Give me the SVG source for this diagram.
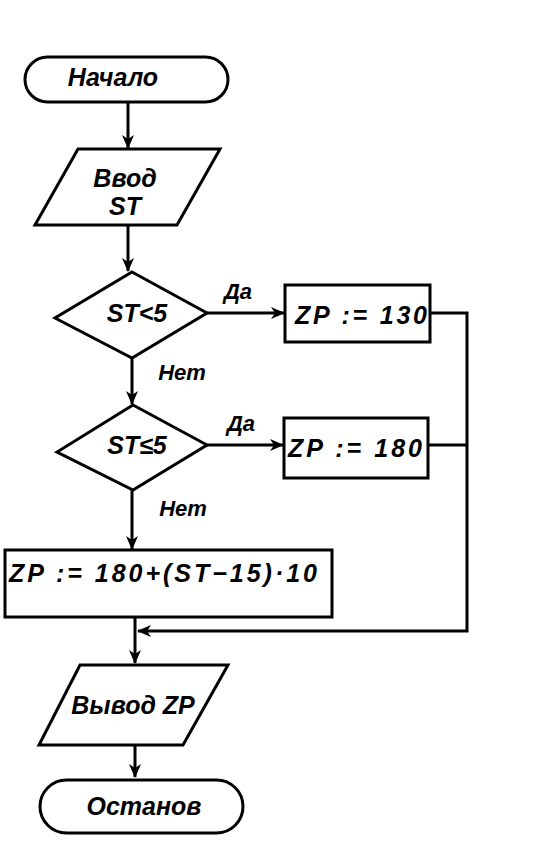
<svg xmlns="http://www.w3.org/2000/svg" width="540" height="856" viewBox="0 0 540 856">
<style>
.s{fill:#fff;stroke:#000;stroke-width:3}
.c{fill:none;stroke:#000;stroke-width:3}
text{font-family:"Liberation Sans",Arial,sans-serif;font-style:italic;font-weight:bold;font-size:25px;fill:#000;text-anchor:middle}
.l{font-size:22px}
</style>
<defs>
<marker id="a" markerWidth="14" markerHeight="12" refX="13" refY="6" orient="auto" markerUnits="userSpaceOnUse">
<path d="M0,0 L14,6 L0,12 L4,6 Z" fill="#000"/>
</marker>
</defs>
<rect width="540" height="856" fill="#fff"/>
<g id="connectors">
<line class="c" x1="128" y1="103" x2="128" y2="148" marker-end="url(#a)"/>
<line class="c" x1="128" y1="225" x2="128" y2="271" marker-end="url(#a)"/>
<line class="c" x1="207" y1="313" x2="284" y2="313" marker-end="url(#a)"/>
<line class="c" x1="132" y1="358" x2="132" y2="404" marker-end="url(#a)"/>
<line class="c" x1="207" y1="445" x2="283" y2="445" marker-end="url(#a)"/>
<line class="c" x1="132" y1="490" x2="132" y2="549" marker-end="url(#a)"/>
<polyline class="c" points="430,313 467,313 467,631 138,631" marker-end="url(#a)"/>
<line class="c" x1="428" y1="445" x2="467" y2="445"/>
<line class="c" x1="135" y1="617" x2="135" y2="663" marker-end="url(#a)"/>
<line class="c" x1="135" y1="745" x2="135" y2="777" marker-end="url(#a)"/>
<text class="l" x="238" y="299">Да</text>
<text class="l" x="182" y="380">Нет</text>
<text class="l" x="241" y="431">Да</text>
<text class="l" x="183" y="516">Нет</text>
</g>
<g id="start">
<rect class="s" x="25" y="57" width="203" height="45" rx="22.5"/>
<text x="113" y="86">Начало</text>
</g>
<g id="input">
<polygon class="s" points="78,149 220,149 177,225 35,225"/>
<text x="125" y="187">Ввод</text>
<text x="125" y="215">ST</text>
</g>
<g id="cond1">
<polygon class="s" points="132,272 207,313 132,358 55,318"/>
<text x="137" y="322">ST&lt;5</text>
</g>
<g id="zp130">
<rect class="s" x="285" y="285" width="145" height="57"/>
<text x="361" y="324" textLength="132" lengthAdjust="spacing">ZP := 130</text>
</g>
<g id="cond2">
<polygon class="s" points="133,405 207,445 133,490 57,452"/>
<text x="137" y="454">ST≤5</text>
</g>
<g id="zp180">
<rect class="s" x="284" y="418" width="144" height="60"/>
<text x="355" y="457" textLength="134" lengthAdjust="spacing">ZP := 180</text>
</g>
<g id="zpcalc">
<rect class="s" x="5" y="550" width="327" height="67"/>
<text x="163" y="582" textLength="308" lengthAdjust="spacing">ZP := 180+(ST−15)·10</text>
</g>
<g id="output">
<polygon class="s" points="80,665 228,665 183,745 39,745"/>
<text x="133" y="714">Вывод ZP</text>
</g>
<g id="stop">
<rect class="s" x="40" y="780" width="203" height="53" rx="26.5"/>
<text x="144" y="815">Останов</text>
</g>
</svg>
